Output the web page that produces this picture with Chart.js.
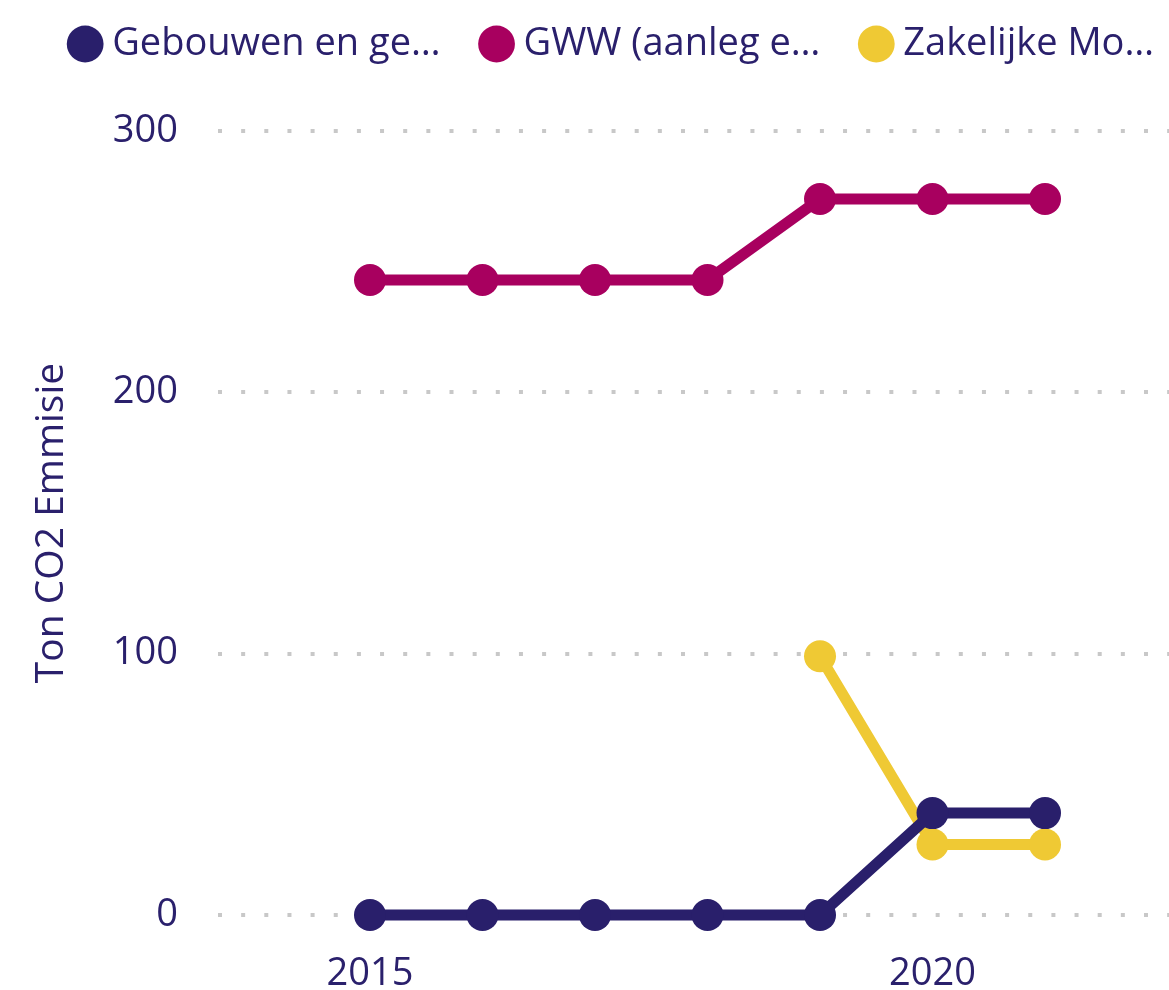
<!DOCTYPE html>
<html>
<head>
<meta charset="utf-8">
<script src="https://cdn.jsdelivr.net/npm/chart.js@4/dist/chart.umd.min.js"></script>
<style>
    html, body { margin: 0; padding: 0; background: #ffffff; }
    canvas { display: block; }
</style>
</head>
<body>
<canvas id="co2Chart" width="1169" height="990"></canvas>
<script>
// data
const years = [2015, 2016, 2017, 2018, 2019, 2020, 2021];
const seriesNames = ['Gebouwen en ge…', 'GWW (aanleg e…', 'Zakelijke Mo…'];
const gebouwen = [0, 0, 0, 0, 0, 39, 39];
const gww = [243, 243, 243, 243, 274, 274, 274];
const zakelijk = [null, null, null, null, 99, 27, 27];
const xTicks = [2015, 2020];
const yTicks = [0, 100, 200, 300];

document.addEventListener('DOMContentLoaded', () => {
    const textColor = '#2a206c';
    const colors = ['#291f6b', '#a8005f', '#efc934'];
    const fontFamily = '"Open Sans", "Noto Sans", sans-serif';

    const toPoints = (values) => years.map((year, i) => ({ x: year, y: values[i] }));

    const makeDataset = (label, values, color) => ({
        label: label,
        data: toPoints(values),
        borderColor: color,
        backgroundColor: color,
        pointBackgroundColor: color,
        pointBorderColor: color,
        pointStyle: 'circle',
        pointRadius: 16,
        pointBorderWidth: 0,
        borderWidth: 11,
        tension: 0,
        clip: false
    });

    const config = {
        type: 'line',
        data: {
            datasets: [
                makeDataset(seriesNames[0], gebouwen, colors[0]),
                makeDataset(seriesNames[1], gww, colors[1]),
                makeDataset(seriesNames[2], zakelijk, colors[2])
            ]
        },
        options: {
            responsive: false,
            animation: false,
            layout: {
                autoPadding: false,
                padding: { left: 0, right: -33, top: -23, bottom: 0 }
            },
            plugins: {
                tooltip: { enabled: false },
                legend: {
                    position: 'top',
                    align: 'end',
                    weight: 1000,
                    labels: {
                        usePointStyle: true,
                        pointStyle: 'circle',
                        boxWidth: 16,
                        boxHeight: 26,
                        padding: 48,
                        color: textColor,
                        font: { family: fontFamily, size: 38 }
                    }
                },
                // empty title used as a spacer between legend and plot
                title: {
                    display: true,
                    text: ' ',
                    position: 'top',
                    weight: 500,
                    font: { size: 10 },
                    padding: { top: 23, bottom: 23 }
                }
            },
            scales: {
                x: {
                    type: 'linear',
                    bounds: 'data',
                    min: 2013.649,
                    max: 2022.102,
                    afterBuildTicks: (axis) => {
                        axis.ticks = xTicks.map(v => ({ value: v }));
                    },
                    afterFit: (axis) => {
                        axis.height = 75;
                        axis.paddingLeft = 0;
                        axis.paddingRight = 0;
                    },
                    grid: { display: false },
                    border: { display: false },
                    ticks: {
                        padding: 28,
                        color: textColor,
                        font: { family: fontFamily, size: 38 },
                        callback: (value) => String(value)
                    }
                },
                y: {
                    bounds: 'data',
                    min: 0,
                    max: 300,
                    afterBuildTicks: (axis) => {
                        axis.ticks = yTicks.map(v => ({ value: v }));
                    },
                    afterFit: (axis) => {
                        axis.width = 218;
                        axis.paddingTop = 131;
                        axis.paddingBottom = 0;
                    },
                    grid: {
                        color: '#c8c8c8',
                        lineWidth: 4,
                        drawTicks: false
                    },
                    border: { display: false, dash: [4, 19.15] },
                    ticks: {
                        padding: 40,
                        color: textColor,
                        font: { family: fontFamily, size: 38 }
                    },
                    title: {
                        display: true,
                        text: 'Ton CO2 Emmisie',
                        color: textColor,
                        font: { family: fontFamily, size: 39 },
                        padding: { top: 28, bottom: 0 }
                    }
                }
            }
        }
    };

    new Chart(document.getElementById('co2Chart'), config);
});
</script>
</body>
</html>
